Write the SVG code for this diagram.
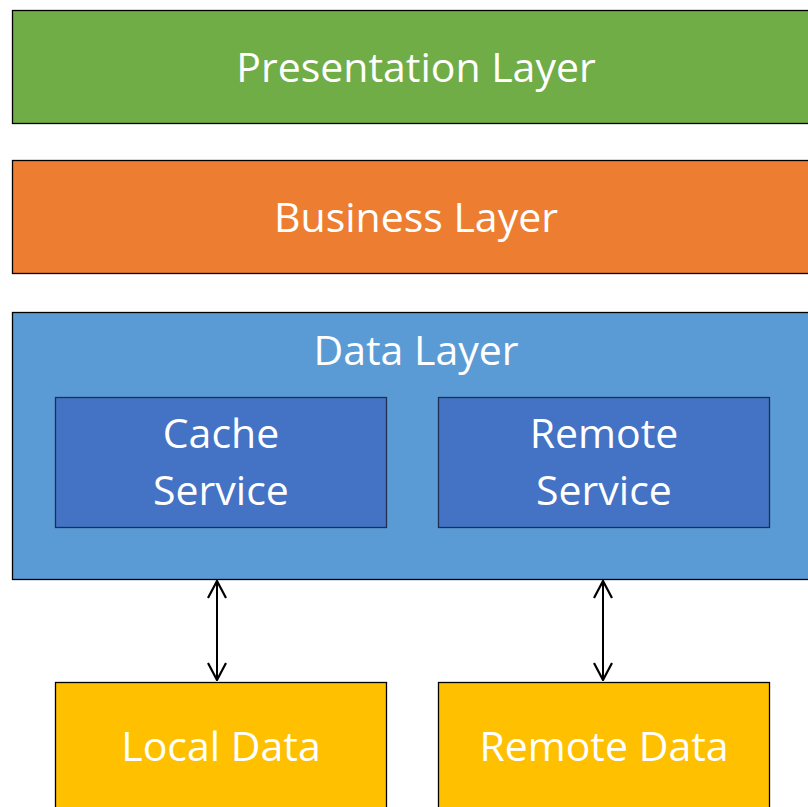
<svg xmlns="http://www.w3.org/2000/svg" width="808" height="807" viewBox="0 0 808 807">
<style>
.box{stroke:#000;stroke-width:1.3}
.inner{stroke:#1f2f4f;stroke-width:1.3}
text{font-family:"Open Sans","Noto Sans",sans-serif;fill:#fff;font-size:41px;text-anchor:middle;dominant-baseline:central}
.con{stroke:#000;stroke-width:2;fill:none}
</style>
<defs>
<marker id="ah" viewBox="0 0 20 20" refX="19" refY="10" markerWidth="20" markerHeight="20" markerUnits="userSpaceOnUse" orient="auto-start-reverse">
<path d="M2,1 L19,10 L2,19" fill="none" stroke="#000" stroke-width="2.2"/>
</marker>
</defs>
<rect width="808" height="807" fill="#fff"/>
<g id="presentation"><rect class="box" x="12.5" y="10.5" width="810" height="113" fill="#70AD47"/><text x="416" y="66">Presentation Layer</text></g>
<g id="business"><rect class="box" x="12.5" y="160.5" width="810" height="113" fill="#ED7D31"/><text x="416" y="216">Business Layer</text></g>
<g id="data"><rect class="box" x="12.5" y="312.5" width="810" height="267" fill="#5B9BD5"/><text x="416" y="349">Data Layer</text></g>
<g id="cache"><rect class="inner" x="55.5" y="397.5" width="331" height="130" fill="#4472C4"/><text x="221" y="432">Cache</text><text x="221" y="489">Service</text></g>
<g id="remote-service"><rect class="inner" x="438.5" y="397.5" width="331" height="130" fill="#4472C4"/><text x="604" y="432">Remote</text><text x="604" y="489">Service</text></g>
<g id="local-data"><rect class="box" x="55.5" y="682.5" width="331" height="140" fill="#FFC000"/><text x="221" y="745">Local Data</text></g>
<g id="remote-data"><rect class="box" x="438.5" y="682.5" width="331" height="140" fill="#FFC000"/><text x="604" y="745">Remote Data</text></g>
<g id="connectors">
<line class="con" x1="217" y1="581" x2="217" y2="680" marker-start="url(#ah)" marker-end="url(#ah)"/>
<line class="con" x1="603" y1="581" x2="603" y2="680" marker-start="url(#ah)" marker-end="url(#ah)"/>
</g>
</svg>
